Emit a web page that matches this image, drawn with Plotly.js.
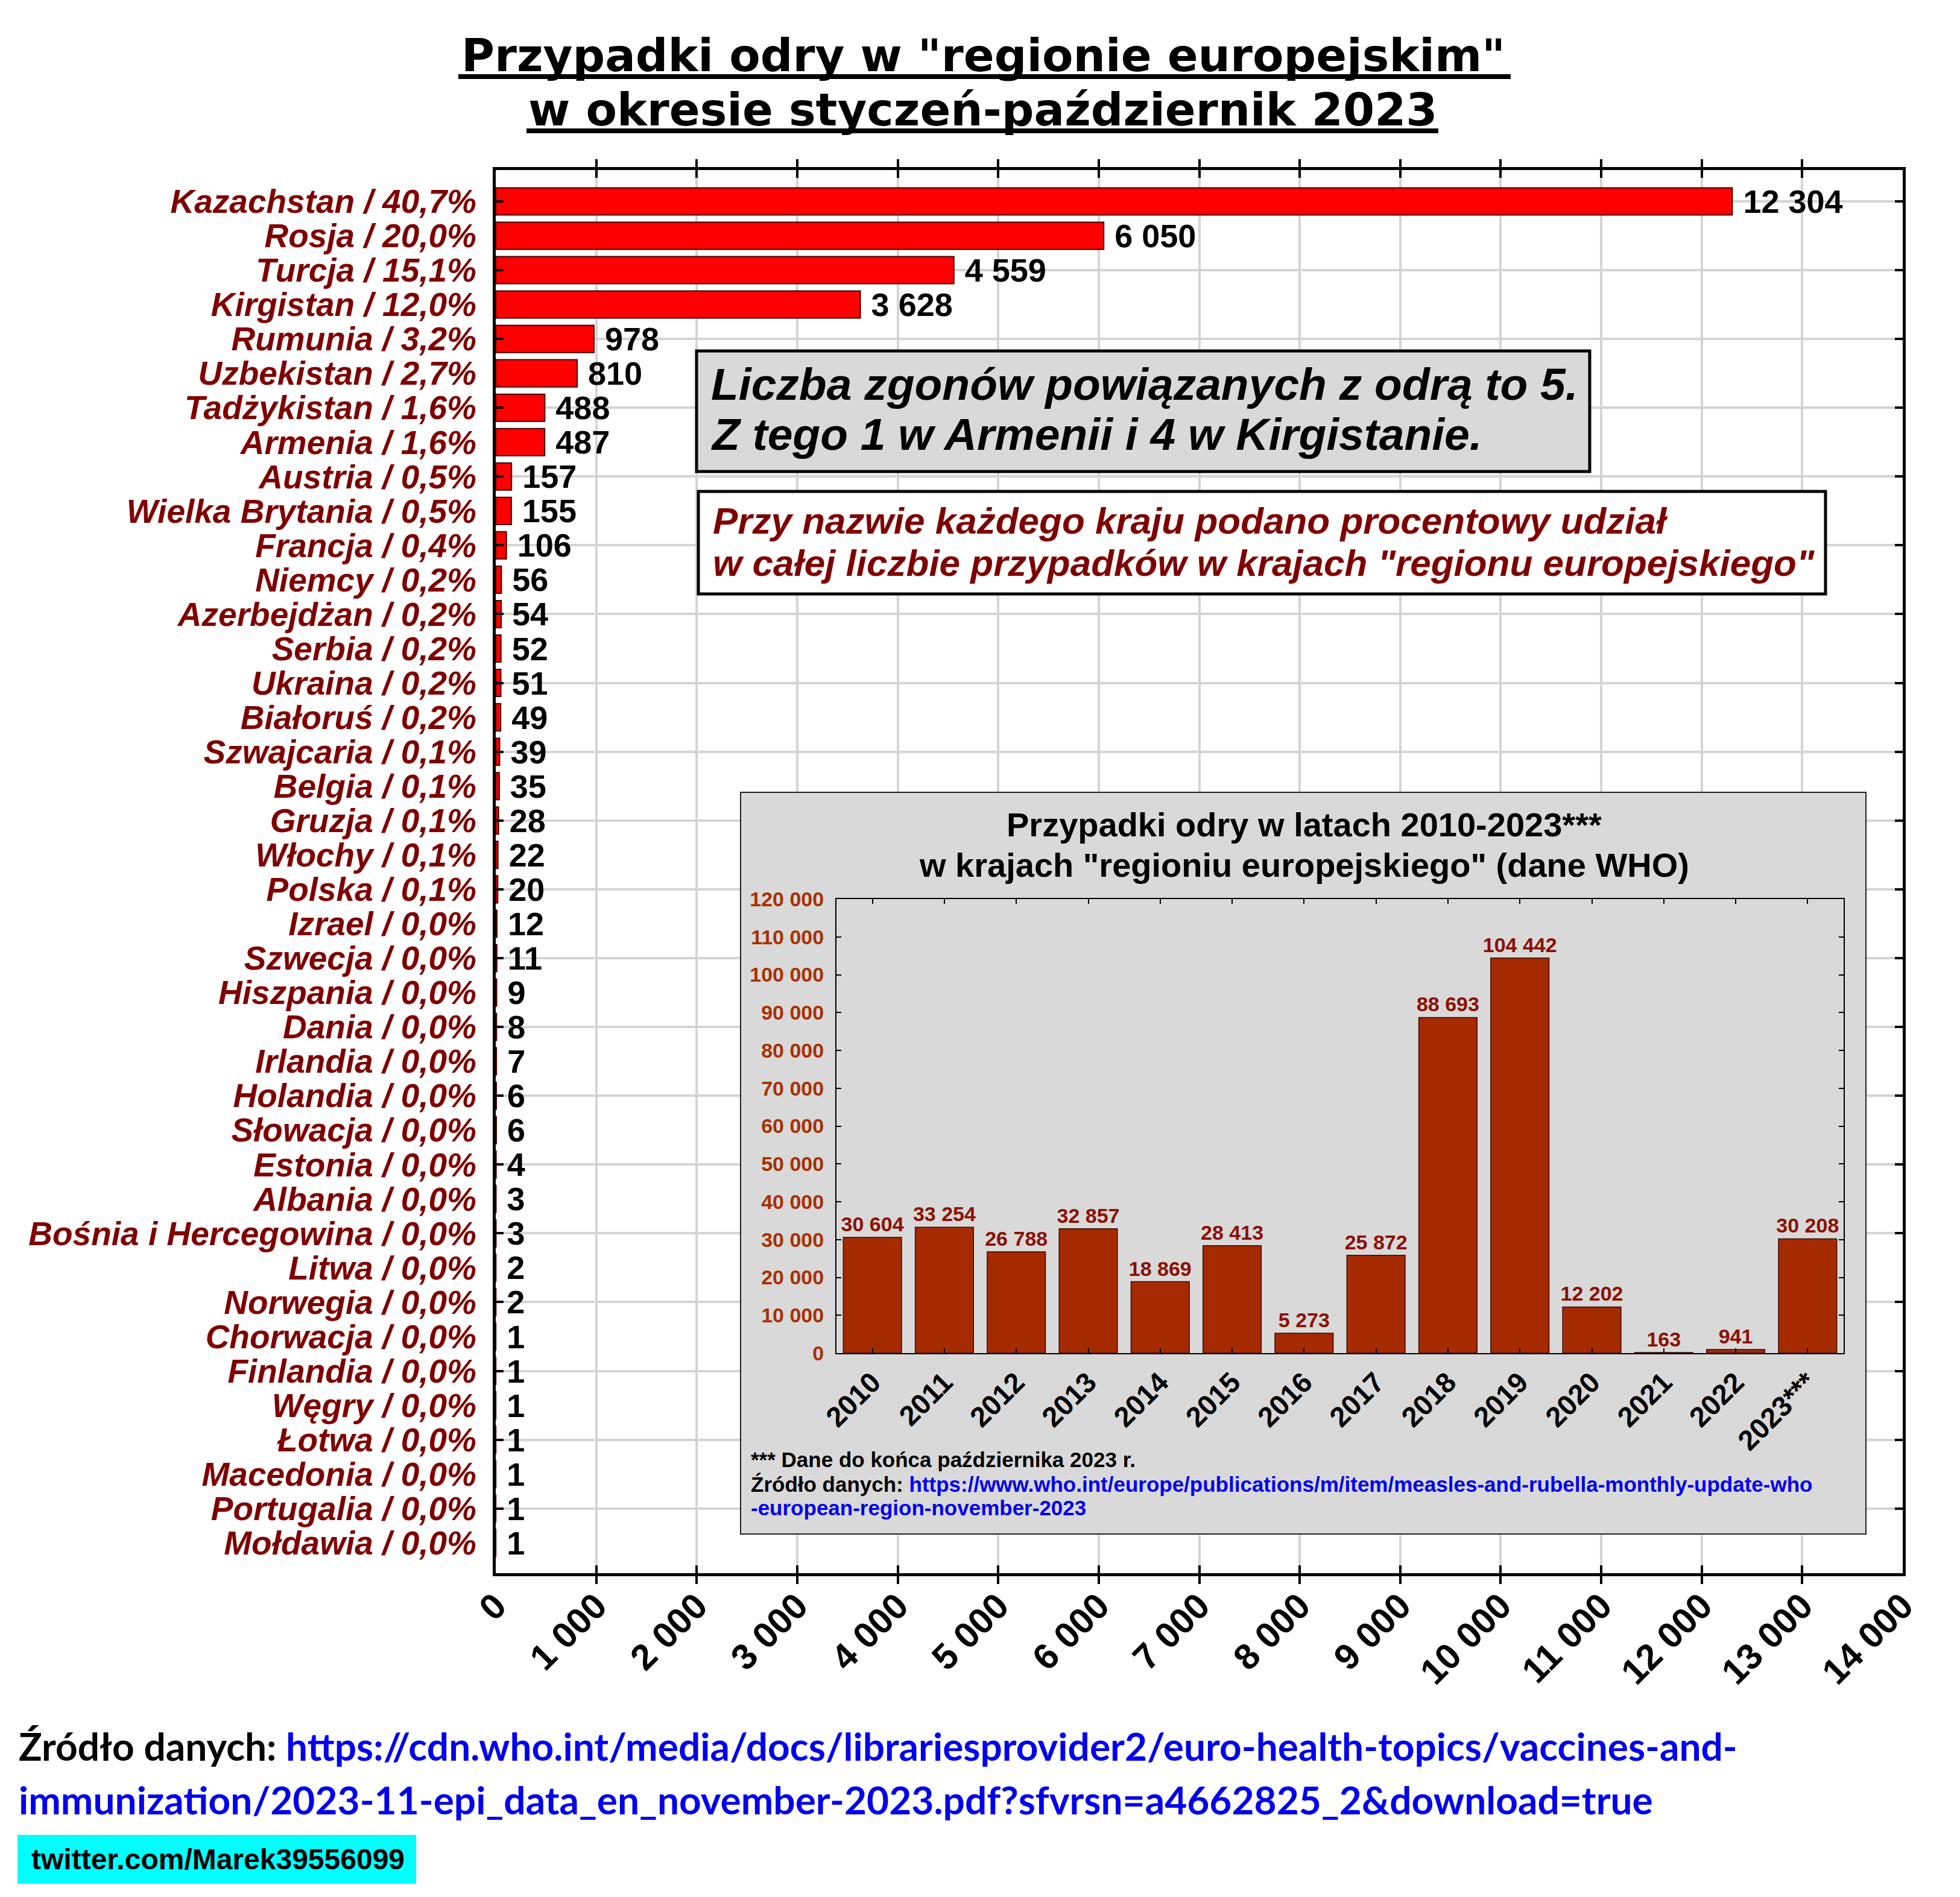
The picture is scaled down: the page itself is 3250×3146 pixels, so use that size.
<!DOCTYPE html>
<html><head><meta charset="utf-8">
<script src="https://cdn.plot.ly/plotly-3.0.1.min.js"></script>
<style>
html,body{margin:0;padding:0;background:#fff;}
#main{position:absolute;left:0;top:0;width:3250px;height:3146px;}
#insetBox{position:absolute;left:1227px;top:1313px;width:1868px;height:1232px;border:2px solid #222;box-sizing:border-box;background:#d9d9d9;}
#inset{width:1864px;height:1228px;}
</style></head><body>
<div id="main"></div>
<div id="insetBox"><div id="inset"></div></div>
<script>
// ---- data ----
const countries = ['Kazachstan','Rosja','Turcja','Kirgistan','Rumunia','Uzbekistan','Tadżykistan','Armenia','Austria','Wielka Brytania','Francja','Niemcy','Azerbejdżan','Serbia','Ukraina','Białoruś','Szwajcaria','Belgia','Gruzja','Włochy','Polska','Izrael','Szwecja','Hiszpania','Dania','Irlandia','Holandia','Słowacja','Estonia','Albania','Bośnia i Hercegowina','Litwa','Norwegia','Chorwacja','Finlandia','Węgry','Łotwa','Macedonia','Portugalia','Mołdawia'];
const shares = ['40,7','20,0','15,1','12,0','3,2','2,7','1,6','1,6','0,5','0,5','0,4','0,2','0,2','0,2','0,2','0,2','0,1','0,1','0,1','0,1','0,1','0,0','0,0','0,0','0,0','0,0','0,0','0,0','0,0','0,0','0,0','0,0','0,0','0,0','0,0','0,0','0,0','0,0','0,0','0,0'];
const cases2023 = [12304,6050,4559,3628,978,810,488,487,157,155,106,56,54,52,51,49,39,35,28,22,20,12,11,9,8,7,6,6,4,3,3,2,2,1,1,1,1,1,1,1];
const years = ['2010','2011','2012','2013','2014','2015','2016','2017','2018','2019','2020','2021','2022','2023***'];
const yearCases = [30604,33254,26788,32857,18869,28413,5273,25872,88693,104442,12202,163,941,30208];

const fmt = v => String(v).replace(/\B(?=(\d{3})+(?!\d))/g, ' ');
const labels = countries.map((c, i) => c + ' / ' + shares[i] + '%');
const evenIdx = countries.map((_, i) => i).filter(i => i % 2 === 0);

const ARIAL = 'Liberation Sans, Arial, sans-serif';
const DARKRED = '#7f0000';
const BLUE = '#0000ee';

// ---- main chart geometry (px) ----
const FW = 3250, FH = 3146;
const PL = 822, PR = 3155, PT = 282, PB = 2609;
const fx = px => (px - PL) / (PR - PL);
const fy = py => (PB - py) / (PB - PT);

function txt(text, px, py, size, opts) {
  opts = opts || {};
  return {
    text: text, xref: 'paper', yref: 'paper', x: fx(px), y: fy(py),
    xanchor: opts.xanchor || 'left', yanchor: 'middle', showarrow: false,
    font: {family: opts.family || ARIAL, size: size, color: opts.color || '#000',
           weight: 'bold', style: opts.italic ? 'italic' : 'normal'}
  };
}

const mainTrace = {
  type: 'bar', orientation: 'h', x: cases2023, y: labels,
  marker: {color: '#ff0000', line: {color: '#400000', width: 2}},
  text: cases2023.map(v => '\u00a0' + fmt(v)), textposition: 'outside',
  textfont: {family: ARIAL, size: 54, color: '#000', weight: 'bold'},
  constraintext: 'none', cliponaxis: false, hoverinfo: 'skip'
};
const helper = {type: 'scatter', x: [], y: [], yaxis: 'y2', hoverinfo: 'skip', showlegend: false};

const mainLayout = {
  width: FW, height: FH,
  margin: {l: PL, r: FW - PR, t: PT, b: FH - PB, pad: 0},
  paper_bgcolor: '#fff', plot_bgcolor: '#fff', showlegend: false,
  separators: ', ', bargap: 0.21,
  xaxis: {range: [0, 14000], tick0: 0, dtick: 1000, tickformat: ',d', separatethousands: true,
    tickangle: -45, tickfont: {family: ARIAL, size: 60, color: '#000', weight: 'bold'},
    ticks: 'inside', ticklen: 13, tickwidth: 4, tickcolor: '#000', mirror: 'allticks',
    showline: true, linewidth: 5, linecolor: '#000', ticklabelstandoff: -10,
    showgrid: true, gridcolor: '#d4d4d4', gridwidth: 4, zeroline: false, fixedrange: true},
  yaxis: {type: 'category', range: [39.88, -0.91], tickmode: 'linear', tick0: 0, dtick: 1,
    ticks: '', showline: true, mirror: true,
    linewidth: 5, linecolor: '#000', showgrid: false, zeroline: false,
    tickfont: {family: ARIAL, size: 55, color: DARKRED, weight: 'bold', style: 'italic'},
    ticklabelstandoff: 16, fixedrange: true},
  yaxis2: {overlaying: 'y', anchor: 'x', side: 'right', range: [39.88, -0.91],
    tickmode: 'array', tickvals: evenIdx, showticklabels: false,
    ticks: 'inside', ticklen: 13, tickwidth: 4, tickcolor: '#000', mirror: 'ticks',
    showline: false, showgrid: true, gridcolor: '#d4d4d4', gridwidth: 4, zeroline: false, fixedrange: true},
  shapes: [
    {type: 'line', xref: 'paper', yref: 'paper', x0: fx(760), x1: fx(2505), y0: fy(127), y1: fy(127), line: {color: '#000', width: 8}},
    {type: 'line', xref: 'paper', yref: 'paper', x0: fx(873), x1: fx(2385), y0: fy(217), y1: fy(217), line: {color: '#000', width: 8}},
    {type: 'rect', xref: 'paper', yref: 'paper', layer: 'above', x0: fx(1155), x1: fx(2636), y0: fy(582), y1: fy(782), fillcolor: '#d9d9d9', line: {color: '#000', width: 5}},
    {type: 'rect', xref: 'paper', yref: 'paper', layer: 'above', x0: fx(1158), x1: fx(3027), y0: fy(815), y1: fy(985), fillcolor: '#fff', line: {color: '#000', width: 5}},
    {type: 'rect', xref: 'paper', yref: 'paper', layer: 'above', x0: fx(29), x1: fx(690), y0: fy(3043), y1: fy(3124), fillcolor: '#00ffff', line: {width: 0}}
  ],
  annotations: [
    txt('Przypadki odry w "regionie europejskim"', 1630, 92, 75, {family: 'DejaVu Sans', xanchor: 'center'}),
    txt('w okresie styczeń-październik 2023', 1630, 182, 75, {family: 'DejaVu Sans', xanchor: 'center'}),
    txt('Liczba zgonów powiązanych z odrą to 5.', 1177, 637, 75, {italic: true}),
    txt('Z tego 1 w Armenii i 4 w Kirgistanie.', 1177, 720, 75, {italic: true}),
    txt('Przy nazwie każdego kraju podano procentowy udział', 1180, 863, 62, {italic: true, color: DARKRED}),
    txt('w całej liczbie przypadków w krajach "regionu europejskiego"', 1180, 933, 62, {italic: true, color: DARKRED}),
    txt('Źródło danych: <span style="color:' + BLUE + '">https://cdn.who.int/media/docs/librariesprovider2/euro-health-topics/vaccines-and-</span>', 29, 2895, 64, {family: 'Lato'}),
    txt('<span style="color:' + BLUE + '">immunization/2023-11-epi_data_en_november-2023.pdf?sfvrsn=a4662825_2&download=true</span>', 29, 2984, 64, {family: 'Lato'}),
    txt('twitter.com/Marek39556099', 50, 3083, 48)
  ]
};

Plotly.newPlot('main', [mainTrace, helper], mainLayout, {staticPlot: true, displayModeBar: false});

// ---- inset chart ----
const IW = 1864, IH = 1228;
const IPL = 158, IPR = 1828, IPT = 176, IPB = 929;
const gx = px => (px - IPL) / (IPR - IPL);
const gy = py => (IPB - py) / (IPB - IPT);
function itxt(text, px, py, size, opts) {
  opts = opts || {};
  return {
    text: text, xref: 'paper', yref: 'paper', x: gx(px), y: gy(py),
    xanchor: opts.xanchor || 'left', yanchor: 'middle', showarrow: false,
    font: {family: ARIAL, size: size, color: opts.color || '#000', weight: 'bold'}
  };
}

const insetTrace = {
  type: 'bar', x: years, y: yearCases,
  marker: {color: '#a52a00', line: {color: '#3a0c00', width: 1.5}},
  text: yearCases.map(fmt), textposition: 'outside',
  textfont: {family: ARIAL, size: 34, color: '#8b1000', weight: 'bold'},
  constraintext: 'none', cliponaxis: false, hoverinfo: 'skip'
};
const insetLayout = {
  width: IW, height: IH,
  margin: {l: IPL, r: IW - IPR, t: IPT, b: IH - IPB, pad: 0},
  paper_bgcolor: '#d9d9d9', plot_bgcolor: '#d9d9d9', showlegend: false,
  separators: ', ', bargap: 0.19,
  xaxis: {type: 'category', tickangle: -45, tickfont: {family: ARIAL, size: 47, color: '#000', weight: 'bold'},
    ticks: 'inside', ticklen: 8, tickwidth: 2, tickcolor: '#000', mirror: 'allticks',
    showline: true, linewidth: 2, linecolor: '#000', showgrid: false, fixedrange: true},
  yaxis: {range: [0, 120000], tick0: 0, dtick: 10000, tickformat: ',d', separatethousands: true,
    tickfont: {family: ARIAL, size: 34, color: '#a83000', weight: 'bold'},
    ticks: 'inside', ticklen: 8, tickwidth: 2, tickcolor: '#000', mirror: 'allticks',
    showline: true, linewidth: 2, linecolor: '#000', showgrid: false, zeroline: false,
    ticklabelstandoff: 12, fixedrange: true},
  annotations: [
    itxt('Przypadki odry w latach 2010-2023***', 933, 53, 56, {xanchor: 'center'}),
    itxt('w krajach "regioniu europejskiego" (dane WHO)', 933, 119, 56, {xanchor: 'center'}),
    itxt('*** Dane do końca października 2023 r.', 14, 1105, 35),
    itxt('Źródło danych: <span style="color:' + BLUE + '">https://www.who.int/europe/publications/m/item/measles-and-rubella-monthly-update-who</span>', 14, 1146, 35),
    itxt('<span style="color:' + BLUE + '">-european-region-november-2023</span>', 14, 1185, 35)
  ]
};
Plotly.newPlot('inset', [insetTrace], insetLayout, {staticPlot: true, displayModeBar: false});
</script>
</body></html>
